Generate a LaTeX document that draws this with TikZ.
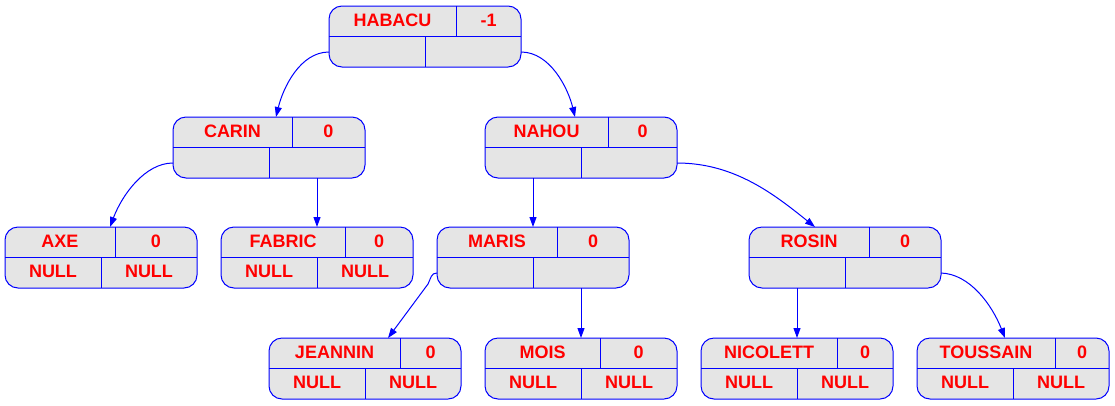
\documentclass[tikz,border=0pt]{standalone}
\usepackage{fontspec}
\setmainfont{Liberation Sans}
\usetikzlibrary{arrows.meta}
\definecolor{cellfill}{gray}{0.898}
\tikzset{
 recbox/.style={draw=blue, fill=cellfill, line width=1pt, rounded corners=13pt, minimum width=192pt, minimum height=61pt, inner sep=0pt, outer sep=0pt},
 divline/.style={draw=blue, line width=1pt},
 lab/.style={text=red, font=\bfseries\fontsize{18}{20}\selectfont, inner sep=0pt, anchor=base},
 edge/.style={draw=blue, line width=1pt, -{Triangle[length=10pt,width=7pt]}},
}
% name, left, top, key, value, top divider x, bottom divider x, bottom-left text, bottom-right text
\newcommand{\recnode}[9]{%
 \pgfmathsetmacro\rR{#2+192}%
 \pgfmathsetmacro\rM{#3+30.5}%
 \pgfmathsetmacro\rB{#3+61}%
 \node[recbox] (#1) at ({#2+96},{#3+30.5}) {};
 \draw[divline] (#1.west) -- (#1.east);
 \draw[divline] (#6,#3) -- (#6,\rM);
 \draw[divline] (#7,\rM) -- (#7,\rB);
 \node[lab] (#1-k) at ({(#2+#6)/2},{#3+20.5}) {#4};
 \node[lab] (#1-v) at ({(#6+\rR)/2},{#3+20.5}) {#5};
 \node[lab] (#1-l) at ({(#2+#7)/2},{#3+50.3}) {#8};
 \node[lab] (#1-r) at ({(#7+\rR)/2},{#3+50.3}) {#9};
 \coordinate (#1-w) at (#2,{#3+46});
 \coordinate (#1-e) at (\rR,{#3+46});
 \coordinate (#1-lc) at ({(#2+#7)/2},\rB);
 \coordinate (#1-rc) at ({(#7+\rR)/2},\rB);
}
\begin{document}
\begin{tikzpicture}[x=1pt,y=-1pt]
\fill[white] (0,0) rectangle (1115,405);
\useasboundingbox (0,0) rectangle (1115,405);

\recnode{habacu}{329}{6}{HABACU}{-1}{456}{425}{}{}
\recnode{carin}{173}{117}{CARIN}{0}{292}{269}{}{}
\recnode{nahou}{485}{117}{NAHOU}{0}{608}{581}{}{}
\recnode{axe}{5}{227}{AXE}{0}{115}{101}{NULL}{NULL}
\recnode{fabric}{221}{227}{FABRIC}{0}{345}{317}{NULL}{NULL}
\recnode{maris}{437}{227}{MARIS}{0}{557}{533}{}{}
\recnode{rosin}{749}{227}{ROSIN}{0}{869}{845}{}{}
\recnode{jeannin}{269}{338}{JEANNIN}{0}{400}{365}{NULL}{NULL}
\recnode{mois}{485}{338}{MOIS}{0}{600}{581}{NULL}{NULL}
\recnode{nicolett}{701}{338}{NICOLETT}{0}{837}{797}{NULL}{NULL}
\recnode{toussain}{917}{338}{TOUSSAIN}{0}{1055}{1013}{NULL}{NULL}

\draw[edge] (habacu-w) .. controls (300,52) and (283,88) .. ([xshift=7pt]carin.north);
\draw[edge] (habacu-e) .. controls (550,52) and (568,88) .. ([xshift=-6pt]nahou.north);
\draw[edge] (carin-w) .. controls (145,163) and (122,195) .. ([xshift=9pt]axe.north);
\draw[edge] (carin-rc) -- (fabric.north);
\draw[edge] (nahou-lc) -- (maris.north);
\draw[edge] (nahou-e) .. controls (735,163) and (775,195) .. ([xshift=-30pt]rosin.north);
\coordinate (mjbend) at (428,284);
\draw[edge] (maris-w) .. controls (431,273) and (431,278) .. (mjbend) -- ([xshift=23pt]jeannin.north);
\draw[edge] (maris-rc) -- (mois.north);
\draw[edge] (rosin-lc) -- (nicolett.north);
\draw[edge] (rosin-e) .. controls (970,274) and (992,305) .. ([xshift=-8pt]toussain.north);
\end{tikzpicture}
\end{document}
